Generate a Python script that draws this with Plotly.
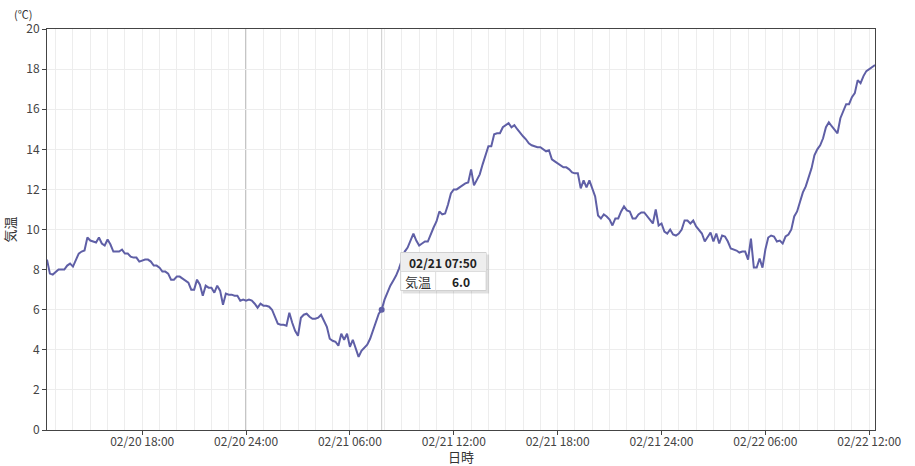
import pandas as pd
import plotly.graph_objects as go

start_time = "2024-02-20 12:30"
temps = [
    8.5, 7.8, 7.75, 7.9, 8.0, 8.0, 8.0, 8.2, 8.3, 8.15,
    8.5, 8.8, 8.9, 8.95, 9.6, 9.45, 9.4, 9.35, 9.6, 9.3,
    9.2, 9.5, 9.25, 8.9, 8.9, 8.9, 9.0, 8.8, 8.8, 8.65,
    8.6, 8.6, 8.4, 8.45, 8.5, 8.5, 8.4, 8.2, 8.2, 8.1,
    7.9, 7.9, 7.8, 7.5, 7.5, 7.65, 7.65, 7.55, 7.45, 7.35,
    7.0, 7.0, 7.5, 7.25, 6.7, 7.2, 7.1, 7.1, 6.85, 7.2,
    6.95, 6.25, 6.8, 6.75, 6.75, 6.7, 6.7, 6.45, 6.5, 6.45,
    6.5, 6.45, 6.3, 6.1, 6.3, 6.2, 6.2, 6.15, 6.0, 5.6,
    5.3, 5.25, 5.25, 5.2, 5.85, 5.35, 4.95, 4.7, 5.6, 5.75,
    5.8, 5.65, 5.55, 5.55, 5.6, 5.75, 5.45, 5.15, 4.55, 4.45,
    4.4, 4.2, 4.8, 4.5, 4.8, 4.15, 4.5, 4.1, 3.65, 3.95,
    4.1, 4.25, 4.55, 4.95, 5.4, 5.8, 6.0, 6.5, 6.85, 7.2,
    7.45, 7.7, 8.05, 8.45, 8.9, 9.1, 9.5, 9.8, 9.45, 9.2,
    9.3, 9.4, 9.4, 9.8, 10.1, 10.4, 10.9, 10.75, 10.8, 11.25,
    11.8, 12.0, 12.0, 12.1, 12.2, 12.3, 12.35, 13.0, 12.2, 12.45,
    12.75, 13.25, 13.75, 14.15, 14.15, 14.75, 14.8, 14.8, 15.1, 15.2,
    15.3, 15.1, 15.2, 15.0, 14.8, 14.65, 14.5, 14.3, 14.2, 14.15,
    14.1, 14.1, 14.0, 13.9, 13.95, 13.5, 13.4, 13.3, 13.2, 13.1,
    13.1, 13.0, 12.85, 12.8, 12.8, 12.05, 12.45, 12.1, 12.45, 12.05,
    11.65, 10.7, 10.55, 10.75, 10.65, 10.5, 10.2, 10.55, 10.55, 10.9,
    11.15, 10.95, 10.9, 10.55, 10.55, 10.75, 10.85, 10.85, 10.65, 10.45,
    10.3, 11.0, 10.2, 10.3, 9.9, 9.8, 10.0, 9.75, 9.7, 9.8,
    10.0, 10.45, 10.45, 10.3, 10.45, 10.15, 10.0, 9.8, 9.4, 9.65,
    9.85, 9.4, 9.8, 9.3, 9.7, 9.65, 9.4, 9.05, 9.0, 8.95,
    8.85, 8.9, 8.9, 8.5, 9.55, 8.1, 8.1, 8.55, 8.1, 9.0,
    9.6, 9.7, 9.65, 9.4, 9.45, 9.3, 9.65, 9.75, 10.0, 10.65,
    10.9, 11.4, 11.85, 12.15, 12.55, 13.05, 13.7, 14.0, 14.2, 14.55,
    15.1, 15.35, 15.15, 15.0, 14.8, 15.55, 15.9, 16.25, 16.25, 16.6,
    16.8, 17.45, 17.3, 17.65, 17.9, 18.0, 18.1, 18.2,
]
times = pd.date_range(start_time, periods=len(temps), freq="10min")

tick_vals = ["2024-02-20 18:00", "2024-02-21 00:00", "2024-02-21 06:00", "2024-02-21 12:00",
             "2024-02-21 18:00", "2024-02-22 00:00", "2024-02-22 06:00", "2024-02-22 12:00"]
tick_text = ["02/20 18:00", "02/20 24:00", "02/21 06:00", "02/21 12:00",
             "02/21 18:00", "02/21 24:00", "02/22 06:00", "02/22 12:00"]
day_lines = ["2024-02-21 00:00", "2024-02-22 00:00"]
hover_time = "2024-02-21 07:50"
hover_label = "02/21 07:50"
series_name = "気温"
x_title = "日時"

LINE = "#5f5fa6"
FONT = "Noto Sans CJK JP"

fig = go.Figure()
fig.add_trace(go.Scatter(x=times, y=temps, mode="lines", name=series_name,
                         line=dict(color=LINE, width=2), hoverinfo="skip"))

hi = list(times).index(pd.Timestamp(hover_time))
hover_val = temps[hi]
fig.add_trace(go.Scatter(x=[times[hi]], y=[hover_val], mode="markers",
                         marker=dict(color=LINE, size=6), hoverinfo="skip"))

shapes = []
for d in day_lines:
    shapes.append(dict(type="line", xref="x", yref="paper", x0=d, x1=d, y0=0, y1=1,
                       line=dict(color="#7a7a7a", width=1), layer="between"))
shapes.append(dict(type="line", xref="x", yref="paper", x0=times[hi], x1=times[hi], y0=0, y1=1,
                   line=dict(color="#cccccc", width=1), layer="between"))

# tooltip box (paper coordinates, page-pixel positions converted)
L, W, T, H = 46.7, 828.3, 29.0, 401.0
def px(x):
    return (x - L) / W
def py(y):
    return (T + H - y) / H

bx0, bx1, by0, by1, bmid, bdiv = 400.5, 486, 252.5, 290.5, 271.5, 435.5
shapes.append(dict(type="rect", xref="paper", yref="paper", x0=px(bx0 + 2), x1=px(bx1 + 3),
                   y0=py(by1 + 3), y1=py(by0 + 2), fillcolor="rgba(0,0,0,0.12)", line=dict(width=0)))
shapes.append(dict(type="rect", xref="paper", yref="paper", x0=px(bx0), x1=px(bx1),
                   y0=py(by1), y1=py(by0), fillcolor="white", line=dict(color="#d0d0d0", width=1)))
shapes.append(dict(type="rect", xref="paper", yref="paper", x0=px(bx0 + 0.5), x1=px(bx1 - 0.5),
                   y0=py(bmid), y1=py(by0 + 0.5), fillcolor="#eeeeee", line=dict(width=0)))
shapes.append(dict(type="line", xref="paper", yref="paper", x0=px(bx0), x1=px(bx1),
                   y0=py(bmid), y1=py(bmid), line=dict(color="#dddddd", width=1)))
shapes.append(dict(type="line", xref="paper", yref="paper", x0=px(bdiv), x1=px(bdiv),
                   y0=py(by1), y1=py(bmid), line=dict(color="#dddddd", width=1)))

annotations = [
    dict(xref="paper", yref="paper", x=px((bx0 + bx1) / 2), y=py((by0 + bmid) / 2),
         text="<b>" + hover_label + "</b>", showarrow=False, font=dict(family=FONT, size=12, color="#222"),
         xanchor="center", yanchor="middle"),
    dict(xref="paper", yref="paper", x=px((bx0 + bdiv) / 2), y=py((bmid + by1) / 2),
         text=series_name, showarrow=False, font=dict(family=FONT, size=13, color="#333"),
         xanchor="center", yanchor="middle"),
    dict(xref="paper", yref="paper", x=px((bdiv + bx1) / 2), y=py((bmid + by1) / 2),
         text="<b>%.1f</b>" % hover_val, showarrow=False, font=dict(family=FONT, size=12, color="#222"),
         xanchor="center", yanchor="middle"),
    dict(xref="paper", yref="paper", x=px(23), y=py(14), text="(℃)", showarrow=False,
         font=dict(family=FONT, size=11, color="#333"), xanchor="center", yanchor="middle"),
    dict(xref="paper", yref="paper", x=px(461), y=py(456.5), text=x_title, showarrow=False,
         font=dict(family=FONT, size=13, color="#333"), xanchor="center", yanchor="middle"),
]

fig.update_layout(
    width=915, height=466,
    margin=dict(l=47, r=40, t=29, b=36),
    paper_bgcolor="white", plot_bgcolor="white",
    showlegend=False,
    font=dict(family=FONT, size=12, color="#444"),
    shapes=shapes, annotations=annotations,
    hovermode=False,
)
fig.update_xaxes(
    type="date", range=[times[0], times[-1]],
    tickmode="array", tickvals=tick_vals, ticktext=tick_text,
    ticks="outside", ticklen=4, tickcolor="#444",
    ticklabelstandoff=-3,
    showgrid=False, zeroline=False,
    showline=True, linecolor="#444", linewidth=1, mirror=True,
    minor=dict(dtick=3600000, tick0="2024-02-20 00:00", showgrid=True, gridcolor="#ededed",
               gridwidth=1, ticks=""),
    automargin=False,
    tickfont=dict(family=FONT, size=12, color="#444"),
)
fig.update_yaxes(
    range=[0, 20], dtick=2, tick0=0,
    ticks="outside", ticklen=4, tickcolor="#444",
    showgrid=True, gridcolor="#ededed", zeroline=False,
    showline=True, linecolor="#444", linewidth=1, mirror=True,
    title=dict(text=series_name, font=dict(family=FONT, size=13, color="#333"), standoff=34),
    automargin=False,
    tickfont=dict(family=FONT, size=12, color="#444"),
)

fig.write_html("out.html", config={"displayModeBar": False},
               post_script="document.body.style.margin='0px';")
